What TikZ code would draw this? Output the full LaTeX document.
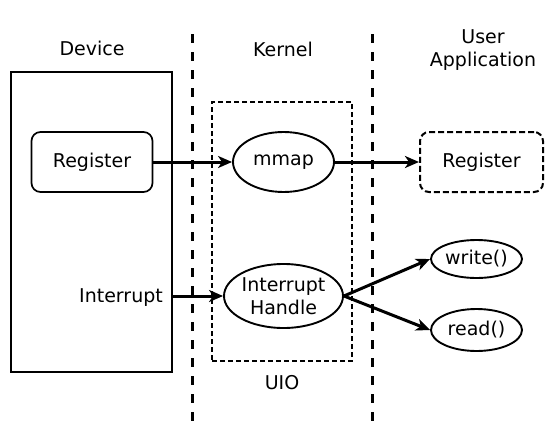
\documentclass[tikz,border=0pt]{standalone}
\usepackage{fontspec}
\setmainfont{DejaVu Sans}
\usetikzlibrary{arrows.meta,shapes.geometric}
\tikzset{every node/.style={font=\fontsize{19}{23}\selectfont, inner sep=0pt, align=center}}
\tikzset{
	box/.style={draw, line width=1.7pt, rounded corners=9pt, minimum width=121pt, minimum height=60pt},
	oval/.style={draw, ellipse, line width=1.9pt},
	arr/.style={line width=3pt, -{Stealth[length=14pt,width=12pt,inset=4pt]}},
	sep/.style={line width=3pt, dash pattern=on 9pt off 9pt},
}

\begin{document}
\begin{tikzpicture}[x=1pt, y=-1pt]
		\useasboundingbox (0,0) rectangle (552,442);
		% layer separators
		\foreach \x in {192,372}{
			\draw[sep] (\x,34) -- (\x,424);
		}
		% titles
		\node (devtitle) at (92,48) {Device};
		\node (kertitle) at (283,49) {Kernel};
		\node (usrtitle) at (483,50) {User\\Application};
		% device side
		\node[draw, line width=1.7pt, minimum width=161pt, minimum height=300pt] (device) at (91.5,222) {};
		\node[box] (reg) at (92,162) {Register};
		\node[anchor=east] (irq) at (163,298) {Interrupt};
		% kernel side
		\node[draw, line width=1.5pt, dash pattern=on 5pt off 3pt, minimum width=140pt, minimum height=259pt] (uio) at (282,231.5) {};
		\node (uiotitle) at (282,383) {UIO};
		\node[oval, minimum width=101pt, minimum height=60pt] (mmap) at (283.5,162) {mmap};
		\node[oval, minimum width=119pt, minimum height=64pt] (handle) at (283.5,296) {Interrupt\\Handle};
		% user side
		\node[box, line width=2pt, dash pattern=on 6pt off 3pt, minimum width=123pt] (ureg) at (481.5,162) {Register};
		\node[oval, minimum width=91pt, minimum height=38pt] (write) at (476.5,259) {write()};
		\node[oval, minimum width=91pt, minimum height=42pt] (read) at (476.5,330) {read()};
		% connections
		\draw[arr] (reg.east) -- (mmap.west);
		\draw[arr] (mmap.east) -- (ureg.west);
		\draw[arr] (device.east |- handle.west) -- (handle.west);
		\draw[arr] (handle.east) -- (write.west);
		\draw[arr] (handle.east) -- (read.west);
	\end{tikzpicture}
\end{document}
